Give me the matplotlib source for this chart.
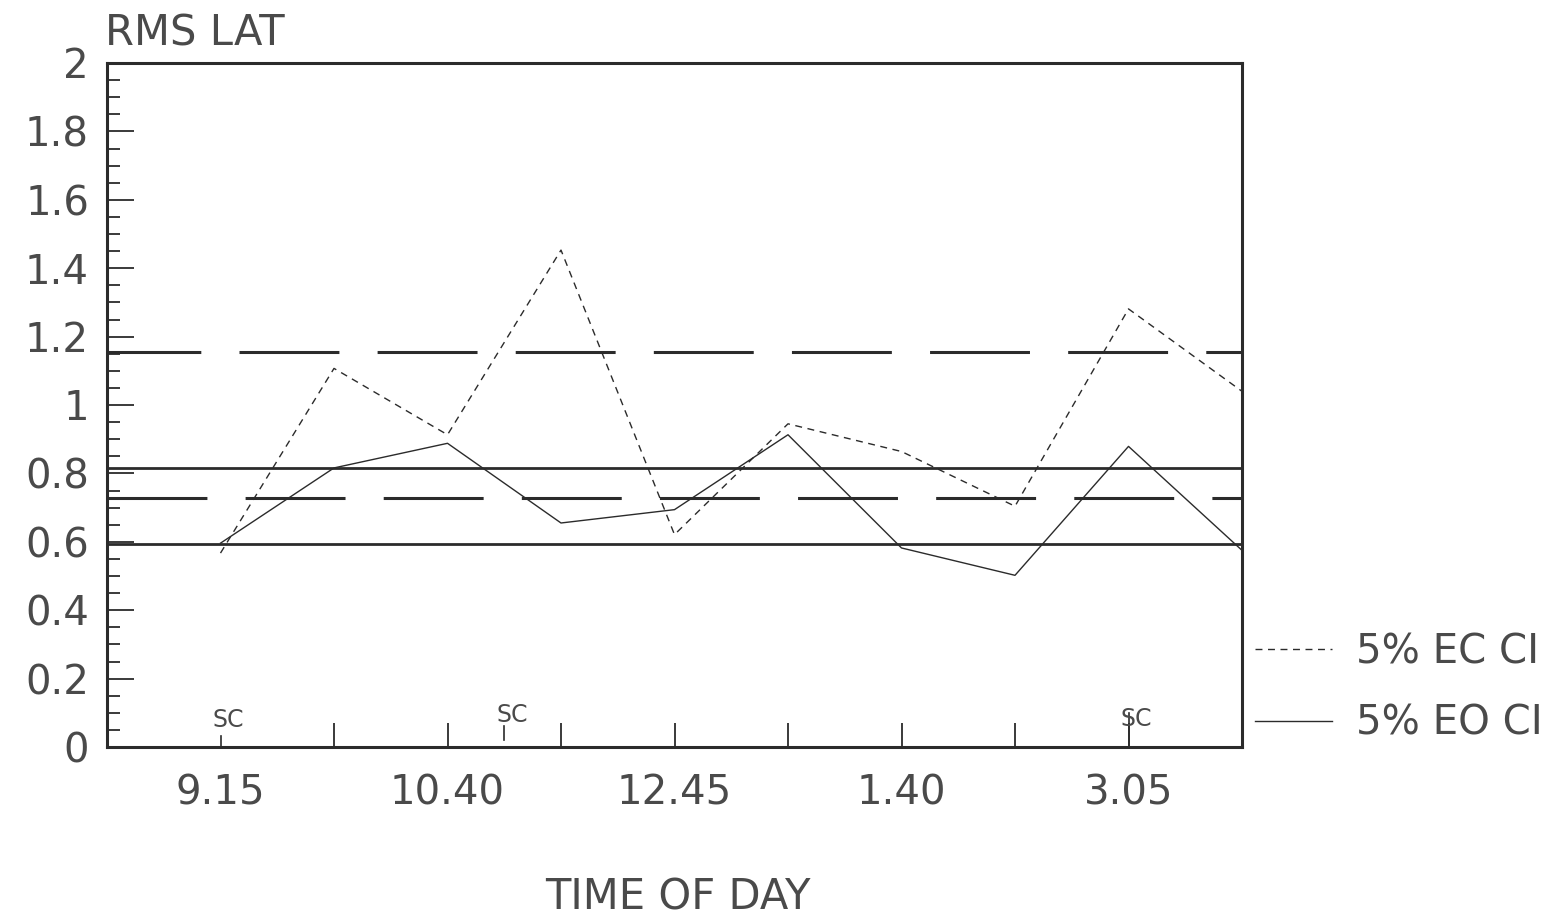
import matplotlib
matplotlib.use("Agg")
import matplotlib.pyplot as plt
from matplotlib.ticker import MultipleLocator, FuncFormatter

# ---- data ----
x_pos = [1, 2, 3, 4, 5, 6, 7, 8, 9, 10]
ec_values = [0.567, 1.107, 0.913, 1.453, 0.621, 0.945, 0.864, 0.704, 1.281, 1.04]
eo_values = [0.596, 0.816, 0.888, 0.655, 0.694, 0.913, 0.582, 0.502, 0.879, 0.575]
ec_ci = [1.154, 0.728]
eo_ci = [0.816, 0.594]
time_ticks = [1, 3, 5, 7, 9]
time_labels = ["9.15", "10.40", "12.45", "1.40", "3.05"]
minor_x = [2, 3, 4, 5, 6, 7, 8, 9]
sc_x = [1, 3.5, 9]
sc_label = "SC"

INK = "#2b2b2b"
TXT = "#4a4a4a"
plt.rcParams['font.family'] = ['DejaVu Sans']

fig = plt.figure(figsize=(15.6, 9.18), dpi=100)
ax = fig.add_axes([107/1560, 1 - 747/918, (1242-107)/1560, (747-63)/918])

# CI reference lines
for v, off in zip(ec_ci, [2, 0]):
    ax.axhline(v, color=INK, lw=2.2, linestyle=(off, (32.7, 12.5)), zorder=2)
for v in eo_ci:
    ax.axhline(v, color=INK, lw=2.0, linestyle="-", zorder=2)

# series
l_ec, = ax.plot(x_pos, ec_values, color=INK, lw=1.0, linestyle=(0, (5, 4)),
                label="5% EC CI", zorder=3)
l_eo, = ax.plot(x_pos, eo_values, color=INK, lw=1.0, linestyle="-",
                label="5% EO CI", zorder=3)

ax.set_xlim(0, 10)
ax.set_ylim(0, 2)

# y ticks
ax.yaxis.set_major_locator(MultipleLocator(0.2))
ax.yaxis.set_minor_locator(MultipleLocator(0.05))
ax.yaxis.set_major_formatter(FuncFormatter(lambda v, p: f"{v:g}"))
ax.tick_params(axis="y", which="major", direction="in", length=19.5, width=1.3,
               color=INK, labelsize=29, labelcolor=TXT, pad=13)
ax.tick_params(axis="y", which="minor", direction="in", length=9.5, width=1.3,
               color=INK)

# x ticks
ax.xaxis.remove_overlapping_locs = False
ax.set_xticks(time_ticks, time_labels)
ax.set_xticks(minor_x, minor=True)
ax.tick_params(axis="x", which="major", length=0, labelsize=29,
               labelcolor=TXT, pad=19)
ax.tick_params(axis="x", which="minor", direction="in", length=17, width=1.3,
               color=INK)

for s in ax.spines.values():
    s.set_linewidth(2.2)
    s.set_color(INK)

# SC markers
sc_tick = [(0.0, 0.032), (0.02, 0.06), (0.0, 0.10)]
sc_text_y = [0.079, 0.093, 0.082]
for xv, (y0, y1), ty in zip(sc_x, sc_tick, sc_text_y):
    ax.plot([xv, xv], [y0, y1], color=INK, lw=1.2, zorder=4)
    ax.text(xv + 0.07, ty, sc_label, ha="center", va="center", fontsize=17,
            color=TXT, zorder=4)

# titles
fig.text(105/1560, 1 - 33/918, "RMS LAT", ha="left", va="center",
         fontsize=30, color=TXT)
fig.text(678/1560, 1 - 897/918, "TIME OF DAY", ha="center", va="center",
         fontsize=30, color=TXT)

# legend
leg = ax.legend(handles=[l_ec, l_eo], loc="center left",
                bbox_to_anchor=(1255/1560, 1 - 688/918),
                bbox_transform=fig.transFigure, frameon=False,
                fontsize=29, handlelength=1.9, handletextpad=0.6,
                labelspacing=0.78, borderpad=0, borderaxespad=0)
for t in leg.get_texts():
    t.set_color(TXT)

fig.savefig("out.png", dpi=100, facecolor="white")
